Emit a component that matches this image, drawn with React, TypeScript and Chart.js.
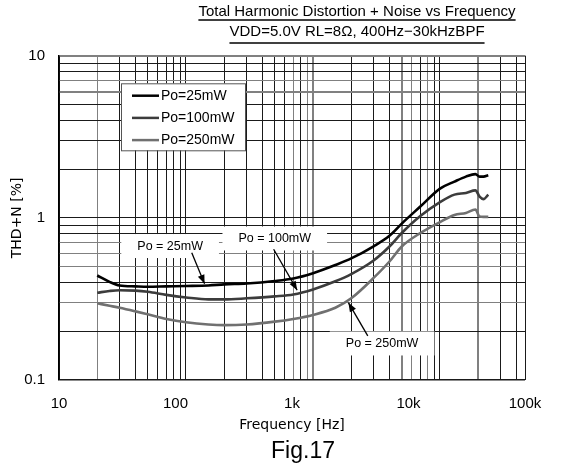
import React, { useEffect, useRef } from 'react';
import { Chart, registerables } from 'chart.js';

Chart.register(...registerables);

// ---- data (frequency in Hz on the chart's grid scale, THD+N in %) ----
const frequencies = [20, 25, 30, 40, 50, 70, 100, 150, 200, 300, 500, 700, 1000, 1500, 2000, 3000, 4000, 5000, 7000, 10000, 13000, 16000, 19000, 20500, 22000, 24000];
const thd25mW = [0.441, 0.403, 0.383, 0.378, 0.376, 0.378, 0.38, 0.383, 0.389, 0.394, 0.408, 0.423, 0.456, 0.512, 0.562, 0.668, 0.775, 0.922, 1.174, 1.514, 1.673, 1.796, 1.86, 1.796, 1.796, 1.83];
const thd100mW = [0.345, 0.354, 0.358, 0.356, 0.35, 0.335, 0.323, 0.314, 0.314, 0.319, 0.328, 0.337, 0.362, 0.406, 0.45, 0.546, 0.666, 0.806, 1.026, 1.251, 1.391, 1.425, 1.478, 1.352, 1.305, 1.391];
const thd250mW = [0.297, 0.287, 0.279, 0.265, 0.254, 0.238, 0.227, 0.22, 0.218, 0.22, 0.229, 0.238, 0.252, 0.279, 0.319, 0.426, 0.538, 0.666, 0.806, 0.942, 1.04, 1.073, 1.125, 1.018, 1.014, 1.014];

const seriesLabels = ['Po=25mW', 'Po=100mW', 'Po=250mW'];
const seriesColors = ['#000000', '#3c3c3c', '#707070'];

// printed axis labels
const xTickValues = [10, 100, 1000, 10000, 100000];
const xTickLabels = ['10', '100', '1k', '10k', '100k'];
const yTickValues = [0.1, 1, 10];
const yTickLabels = ['0.1', '1', '10'];

// range of the drawn frequency grid
const gridMinHz = 10;
const gridMaxHz = 46700;

// callouts (data coordinates: [Hz, %])
const callouts = [
  { text: 'Po = 25mW', at: [75, 0.67], from: [111, 0.61], to: [140, 0.392] },
  { text: 'Po = 100mW', at: [500, 0.746], from: [490, 0.64], to: [750, 0.358] },
  { text: 'Po = 250mW', at: [3500, 0.168], from: [2700, 0.187], to: [1900, 0.3] },
];

const titleLines = ['Total Harmonic Distortion + Noise vs Frequency', 'VDD=5.0V RL=8Ω, 400Hz−30kHzBPF'];
const figureLabel = 'Fig.17';

const SANS = "'Liberation Sans', Arial, sans-serif";
const SANS2 = "'DejaVu Sans', sans-serif";

const xGrayGrid = [20, 700, 900, 1000, 5000, 6000, 8000, 20000];
const xThickGrid = [1000, 5000, 20000];
const yGrayGrid = [10, 7, 6, 0.7, 0.6, 0.5, 0.3];
const yThickGrid = [10, 6];

const near = (a: number, list: number[]) => list.some((b) => Math.abs(a - b) / b < 1e-6);

function decadeTicks(min: number, max: number) {
  const out: { value: number }[] = [];
  const e0 = Math.floor(Math.log10(min) + 1e-9);
  const e1 = Math.ceil(Math.log10(max) - 1e-9);
  for (let e = e0; e <= e1; e++) {
    for (let m = 1; m <= 9; m++) {
      const v = Number((m * Math.pow(10, e)).toPrecision(8));
      if (v >= min * 0.9999 && v <= max * 1.0001) out.push({ value: v });
    }
  }
  if (out[out.length - 1].value < max * 0.9999) out.push({ value: max });
  return out;
}

const decorPlugin = {
  id: 'decor',
  afterDatasetsDraw(chart: any) {
    const { ctx, chartArea, scales } = chart;
    const sx = scales.x;
    const sy = scales.y;
    ctx.save();
    // callouts
    ctx.font = `12.5px ${SANS}`;
    ctx.textAlign = 'center';
    ctx.textBaseline = 'middle';
    callouts.forEach((c) => {
      const tx = sx.getPixelForValue(c.at[0]);
      const ty = sy.getPixelForValue(c.at[1]);
      const w = ctx.measureText(c.text).width;
      ctx.fillStyle = '#ffffff';
      ctx.fillRect(tx - w / 2 - 16, ty - 12, w + 32, 24);
      ctx.fillStyle = '#000000';
      ctx.fillText(c.text, tx, ty + 0.5);
      const x1 = sx.getPixelForValue(c.from[0]);
      const y1 = sy.getPixelForValue(c.from[1]);
      const x2 = sx.getPixelForValue(c.to[0]);
      const y2 = sy.getPixelForValue(c.to[1]);
      ctx.strokeStyle = '#000000';
      ctx.lineWidth = 1.3;
      ctx.beginPath();
      ctx.moveTo(x1, y1);
      ctx.lineTo(x2, y2);
      ctx.stroke();
      const a = Math.atan2(y2 - y1, x2 - x1);
      const L = 9;
      const W = 3.5;
      ctx.beginPath();
      ctx.moveTo(x2, y2);
      ctx.lineTo(x2 - L * Math.cos(a) + W * Math.sin(a), y2 - L * Math.sin(a) - W * Math.cos(a));
      ctx.lineTo(x2 - L * Math.cos(a) - W * Math.sin(a), y2 - L * Math.sin(a) + W * Math.cos(a));
      ctx.closePath();
      ctx.fillStyle = '#000000';
      ctx.fill();
    });
    // legend box
    const bx = chartArea.left + 62;
    const by = chartArea.top + 27.6;
    ctx.fillStyle = '#ffffff';
    ctx.fillRect(bx, by, 124, 67);
    ctx.strokeStyle = '#555555';
    ctx.lineWidth = 1;
    ctx.strokeRect(bx + 0.5, by + 0.5, 124, 67);
    ctx.font = `14px ${SANS}`;
    ctx.textAlign = 'left';
    ctx.textBaseline = 'middle';
    chart.data.datasets.forEach((ds: any, i: number) => {
      const ry = by + 12.4 + i * 22.2;
      ctx.strokeStyle = ds.borderColor;
      ctx.lineWidth = 2.5;
      ctx.beginPath();
      ctx.moveTo(bx + 11, ry);
      ctx.lineTo(bx + 38, ry);
      ctx.stroke();
      ctx.fillStyle = '#000000';
      ctx.fillText(ds.label, bx + 40, ry + 0.5);
    });
    ctx.restore();
  },
  afterDraw(chart: any) {
    const { ctx } = chart;
    ctx.save();
    ctx.fillStyle = '#000000';
    ctx.strokeStyle = '#000000';
    ctx.font = `15px ${SANS}`;
    ctx.textAlign = 'center';
    ctx.textBaseline = 'alphabetic';
    const cx = 357;
    const baselines = [16, 35.5];
    const unders = [20, 43];
    titleLines.forEach((t, i) => {
      ctx.fillText(t, cx, baselines[i]);
      const w = ctx.measureText(t).width;
      ctx.lineWidth = 1.3;
      ctx.beginPath();
      ctx.moveTo(cx - w / 2, unders[i]);
      ctx.lineTo(cx + w / 2, unders[i]);
      ctx.stroke();
    });
    ctx.font = `23px ${SANS}`;
    ctx.textBaseline = 'middle';
    ctx.fillText(figureLabel, 303, 452);
    ctx.restore();
  },
};

export default function App() {
  const ref = useRef<HTMLCanvasElement | null>(null);
  useEffect(() => {
    if (!ref.current) return;
    const chart = new Chart(ref.current, {
      type: 'line',
      data: {
        datasets: [thd25mW, thd100mW, thd250mW].map((vals, i) => ({
          label: seriesLabels[i],
          data: frequencies.map((f, j) => ({ x: f, y: vals[j] })),
          borderColor: seriesColors[i],
          backgroundColor: seriesColors[i],
          borderWidth: 2.6,
          pointRadius: 0,
          cubicInterpolationMode: 'monotone' as const,
          xAxisID: 'x',
          yAxisID: 'y',
        })),
      },
      options: {
        animation: false,
        responsive: false,
        devicePixelRatio: 1,
        parsing: false as any,
        layout: { padding: { left: 0, right: 63, top: 55.7, bottom: 36.6 } },
        plugins: {
          legend: { display: false },
          title: { display: false },
          tooltip: { enabled: false },
        },
        scales: {
          x: {
            type: 'logarithmic',
            position: 'bottom',
            weight: 0,
            min: gridMinHz,
            max: gridMaxHz,
            afterBuildTicks: (s: any) => {
              s.ticks = decadeTicks(gridMinHz, gridMaxHz);
            },
            ticks: { display: false, autoSkip: false },
            grid: {
              drawTicks: false,
              color: (c: any) => (c.tick && near(c.tick.value, xGrayGrid) ? '#808080' : '#1a1a1a'),
              lineWidth: (c: any) => (c.tick && near(c.tick.value, xThickGrid) ? 2 : 1),
            },
            border: { display: false },
            afterFit: (s: any) => {
              s.height = 0;
            },
          } as any,
          x2: {
            type: 'logarithmic',
            position: 'bottom',
            weight: 1,
            min: 10,
            max: 100000,
            afterBuildTicks: (s: any) => {
              s.ticks = xTickValues.map((v) => ({ value: v }));
            },
            ticks: {
              autoSkip: false,
              maxRotation: 0,
              padding: 14.5,
              color: '#000000',
              font: { family: SANS, size: 15 },
              callback: (_v: any, i: number) => xTickLabels[i],
            },
            grid: { display: false, drawTicks: false },
            border: { display: false },
            title: {
              display: true,
              text: 'Frequency [Hz]',
              color: '#000000',
              font: { family: SANS2, size: 14 },
              padding: 0,
            },
            afterFit: (s: any) => {
              s.height = 53.4;
            },
          } as any,
          y: {
            type: 'logarithmic',
            position: 'left',
            min: 0.1,
            max: 10,
            afterBuildTicks: (s: any) => {
              s.ticks = decadeTicks(0.1, 10);
            },
            ticks: {
              autoSkip: false,
              padding: 14,
              color: '#000000',
              font: { family: SANS, size: 15 },
              callback: (v: any) => {
                const k = yTickValues.findIndex((t) => Math.abs(t - v) / t < 1e-6);
                return k >= 0 ? yTickLabels[k] : '';
              },
            },
            grid: {
              drawTicks: false,
              color: (c: any) => (c.tick && near(c.tick.value, yGrayGrid) ? '#808080' : '#1a1a1a'),
              lineWidth: (c: any) => (c.tick && near(c.tick.value, yThickGrid) ? 2 : c.tick && near(c.tick.value, [0.1]) ? 1.5 : 1),
            },
            border: { display: true, color: '#000000', width: 1.5 },
            title: {
              display: true,
              text: 'THD+N [%]',
              color: '#000000',
              font: { family: SANS2, size: 14 },
              padding: { top: 8.6, bottom: 0 },
            },
            afterFit: (s: any) => {
              s.width = 59;
            },
          } as any,
        },
      },
      plugins: [decorPlugin],
    });
    return () => chart.destroy();
  }, []);
  return (
    <div style={{ position: 'absolute', left: 0, top: 0, width: 588, height: 470, background: '#ffffff' }}>
      <canvas ref={ref} width={588} height={470} />
    </div>
  );
}
